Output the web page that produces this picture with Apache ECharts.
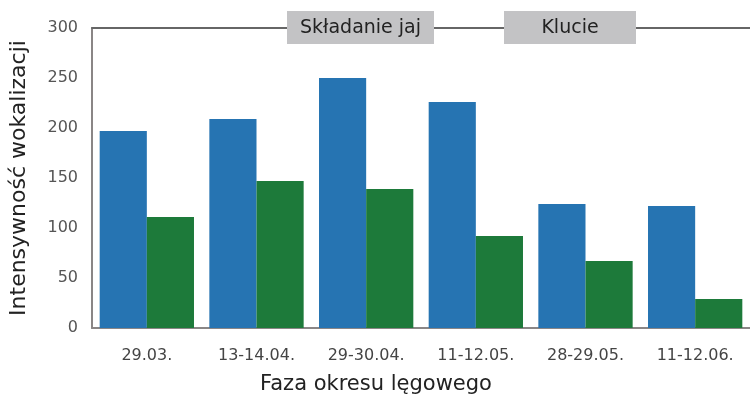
<!DOCTYPE html>
<html>
<head>
<meta charset="utf-8">
<script src="https://cdn.jsdelivr.net/npm/echarts@6/dist/echarts.min.js"></script>
<style>
  html, body { margin: 0; padding: 0; background: #ffffff; }
  #chart { width: 750px; height: 401px; }
</style>
</head>
<body>
<div id="chart"></div>
<script>
// Breeding-season phases (survey dates)
const categories = ['29.03.', '13-14.04.', '29-30.04.', '11-12.05.', '28-29.05.', '11-12.06.'];
// Vocalisation intensity, two series
const seriesBlue = [197, 209, 250, 226, 124, 122];
const seriesGreen = [111, 147, 139, 92, 67, 29];
// Value-axis ticks
const yMin = 0, yMax = 300, yStep = 50;
// Phase labels shown along the top edge
const phaseLabels = ['Składanie jaj', 'Klucie'];

const FONT = '"DejaVu Sans", sans-serif';
const AXIS_GREY = '#8a8686';

const chart = echarts.init(document.getElementById('chart'), null, { renderer: 'canvas' });

function phaseBox(text, x, w) {
  return {
    type: 'group',
    left: x,
    top: 11,
    z: 100,
    children: [
      {
        type: 'rect', z: 100,
        shape: { x: 0, y: 0, width: w, height: 33 },
        style: { fill: '#c3c3c5' }
      },
      {
        type: 'text', z: 101,
        x: w / 2, y: 17,
        style: {
          text: text, fill: '#222222', font: '19px ' + FONT,
          align: 'center', verticalAlign: 'middle'
        }
      }
    ]
  };
}

chart.setOption({
  animation: false,
  backgroundColor: '#ffffff',
  grid: { left: 92, top: 28, right: -4, bottom: 73, containLabel: false },
  xAxis: [
    {
      type: 'category',
      data: categories,
      position: 'bottom',
      axisLine: { show: true, lineStyle: { color: AXIS_GREY, width: 2 } },
      axisTick: { show: false },
      axisLabel: { color: '#444444', fontSize: 16, fontFamily: FONT, margin: 20 },
      name: 'Faza okresu lęgowego',
      nameLocation: 'middle',
      nameGap: 46,
      // title sits centred on the page rather than on the plot area
      nameTextStyle: { color: '#222222', fontSize: 21, fontFamily: FONT, padding: [0, 90, 0, 0] }
    },
    {
      type: 'category',
      data: categories,
      position: 'top',
      axisLine: { show: true, lineStyle: { color: '#666666', width: 2 } },
      axisTick: { show: false },
      axisLabel: { show: false }
    }
  ],
  yAxis: {
    type: 'value',
    min: yMin, max: yMax, interval: yStep,
    axisLine: { show: true, lineStyle: { color: AXIS_GREY, width: 2 } },
    axisTick: { show: false },
    splitLine: { show: false },
    axisLabel: { color: '#555555', fontSize: 16, fontFamily: FONT, margin: 14 },
    name: 'Intensywność wokalizacji',
    nameLocation: 'middle',
    nameGap: 62,
    nameTextStyle: { color: '#222222', fontSize: 22, fontFamily: FONT }
  },
  series: [
    {
      type: 'bar', data: seriesBlue, xAxisIndex: 0,
      itemStyle: { color: '#2674b2' },
      barGap: '0%', barCategoryGap: '14%'
    },
    {
      type: 'bar', data: seriesGreen, xAxisIndex: 0,
      itemStyle: { color: '#1d7a3a' },
      barGap: '0%', barCategoryGap: '14%'
    }
  ],
  graphic: [
    phaseBox(phaseLabels[0], 287, 147),
    phaseBox(phaseLabels[1], 504, 132)
  ]
});
</script>
</body>
</html>
